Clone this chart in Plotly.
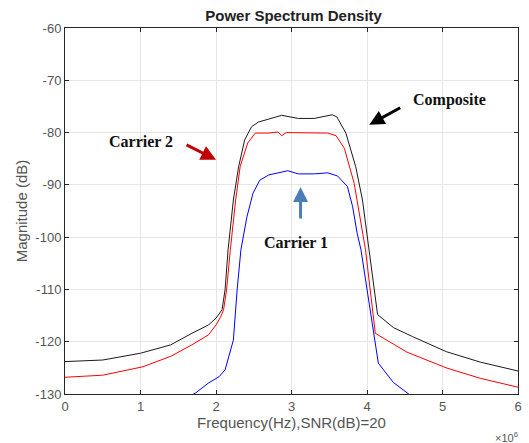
import plotly.graph_objects as go

# Frequency in units of 1e6 Hz
f_comp = [0, 0.5, 1.0, 1.4, 1.68, 1.9, 2.0, 2.08, 2.12, 2.16, 2.23, 2.30, 2.38, 2.47, 2.56, 2.69,
          2.87, 3.09, 3.30, 3.54, 3.60, 3.72, 3.85, 3.94, 4.03, 4.14, 4.35, 4.6, 5.05, 5.5, 6.0]
db_comp = [-123.8, -123.5, -122.2, -120.6, -118.4, -116.8, -115.5, -113.9, -110.1, -102.4, -92.9,
           -86.5, -81.4, -78.9, -78.0, -77.5, -76.7, -77.3, -77.3, -76.6, -77.0, -80.1, -86.5, -92.9,
           -102.4, -114.8, -117.3, -119.0, -121.9, -123.9, -125.6]

f_c2 = [0, 0.5, 1.03, 1.4, 1.68, 1.9, 2.0, 2.06, 2.10, 2.14, 2.19, 2.26, 2.32, 2.42, 2.52, 2.69,
        2.82, 2.87, 2.93, 3.30, 3.48, 3.59, 3.70, 3.83, 3.91, 3.98, 4.11, 4.40, 4.53, 5.05, 5.5, 6.0]
db_c2 = [-126.8, -126.4, -124.8, -122.8, -120.6, -118.7, -116.8, -115.3, -113.9, -110.1, -102.4,
         -92.9, -86.5, -82.0, -80.1, -80.1, -79.9, -80.6, -80.0, -80.0, -80.1, -80.6, -83.0, -89.7,
         -96.1, -102.4, -118.4, -120.9, -122.0, -125.0, -127.0, -128.7]

f_c1 = [1.68, 1.73, 1.90, 2.04, 2.12, 2.23, 2.28, 2.33, 2.41, 2.49, 2.58, 2.70, 2.95, 3.09, 3.30,
        3.48, 3.61, 3.74, 3.81, 3.87, 3.92, 4.04, 4.15, 4.35, 4.57]
db_c1 = [-130.2, -129.8, -127.9, -126.7, -125.4, -119.7, -110.1, -102.4, -96.1, -91.6, -89.1,
         -88.1, -87.3, -87.9, -87.9, -87.7, -88.3, -90.3, -94.2, -99.3, -102.4, -113.3, -124.1,
         -127.8, -130.2]

x_ticks = [0, 1, 2, 3, 4, 5, 6]
y_ticks = [-60, -70, -80, -90, -100, -110, -120, -130]

fig = go.Figure()
fig.add_trace(go.Scatter(x=f_comp, y=db_comp, mode="lines", line=dict(color="#1a1a1a", width=1), name="Composite"))
fig.add_trace(go.Scatter(x=f_c2, y=db_c2, mode="lines", line=dict(color="#ff0000", width=1), name="Carrier 2"))
fig.add_trace(go.Scatter(x=f_c1, y=db_c1, mode="lines", line=dict(color="#0000ff", width=1), name="Carrier 1"))

axis_common = dict(showgrid=True, gridcolor="#e6e6e6", gridwidth=1, showline=True, linecolor="#262626",
                   linewidth=1, mirror="ticks", ticks="inside", ticklen=4, tickcolor="#262626",
                   tickfont=dict(family="Liberation Sans, Arial", size=13, color="#555555"), zeroline=False)

fig.update_xaxes(range=[0, 6], tickvals=x_ticks, ticktext=[str(v) for v in x_ticks],
                 title=dict(text="Frequency(Hz),SNR(dB)=20", standoff=4,
                            font=dict(family="Liberation Sans, Arial", size=15, color="#555555")),
                 **axis_common)
fig.update_yaxes(range=[-130, -60], tickvals=y_ticks, ticktext=[str(v) for v in y_ticks],
                 title=dict(text="Magnitude (dB)", standoff=4,
                            font=dict(family="Liberation Sans, Arial", size=15, color="#555555")),
                 **axis_common)

serif = dict(family="Liberation Serif, Times New Roman", size=16, color="#111111")
ann = [
    dict(x=5.09, y=-73.8, text="<b>Composite</b>", showarrow=False, font=serif),
    dict(x=1.01, y=-81.8, text="<b>Carrier 2</b>", showarrow=False, font=serif),
    dict(x=3.06, y=-101.1, text="<b>Carrier 1</b>", showarrow=False, font=serif),
    dict(x=4.03, y=-78.5, ax=4.46, ay=-75.1, axref="x", ayref="y", text="", showarrow=True,
         arrowhead=2, arrowsize=1, arrowwidth=3, arrowcolor="#000000"),
    dict(x=2.0, y=-85.2, ax=1.59, ay=-82.2, axref="x", ayref="y", text="", showarrow=True,
         arrowhead=2, arrowsize=1, arrowwidth=3, arrowcolor="#c00000"),
    dict(x=3.12, y=-90.4, ax=3.12, ay=-96.7, axref="x", ayref="y", text="", showarrow=True,
         arrowhead=2, arrowsize=1, arrowwidth=3, arrowcolor="#4a7ebb"),
    dict(x=1.0, y=0, xref="paper", yref="paper", xanchor="right", yanchor="top", yshift=-34, xshift=2,
         text="×10<sup>6</sup>", showarrow=False,
         font=dict(family="Liberation Sans, Arial", size=11, color="#555555")),
]

fig.update_layout(
    width=529, height=443,
    margin=dict(l=65, r=7, t=28, b=49),
    paper_bgcolor="white", plot_bgcolor="white",
    showlegend=False,
    title=dict(text="<b>Power Spectrum Density</b>", x=0.555, xanchor="center", y=0.965, yanchor="middle",
               font=dict(family="Liberation Sans, Arial", size=15, color="#222222")),
    annotations=ann,
)

fig.write_html("out.html")
